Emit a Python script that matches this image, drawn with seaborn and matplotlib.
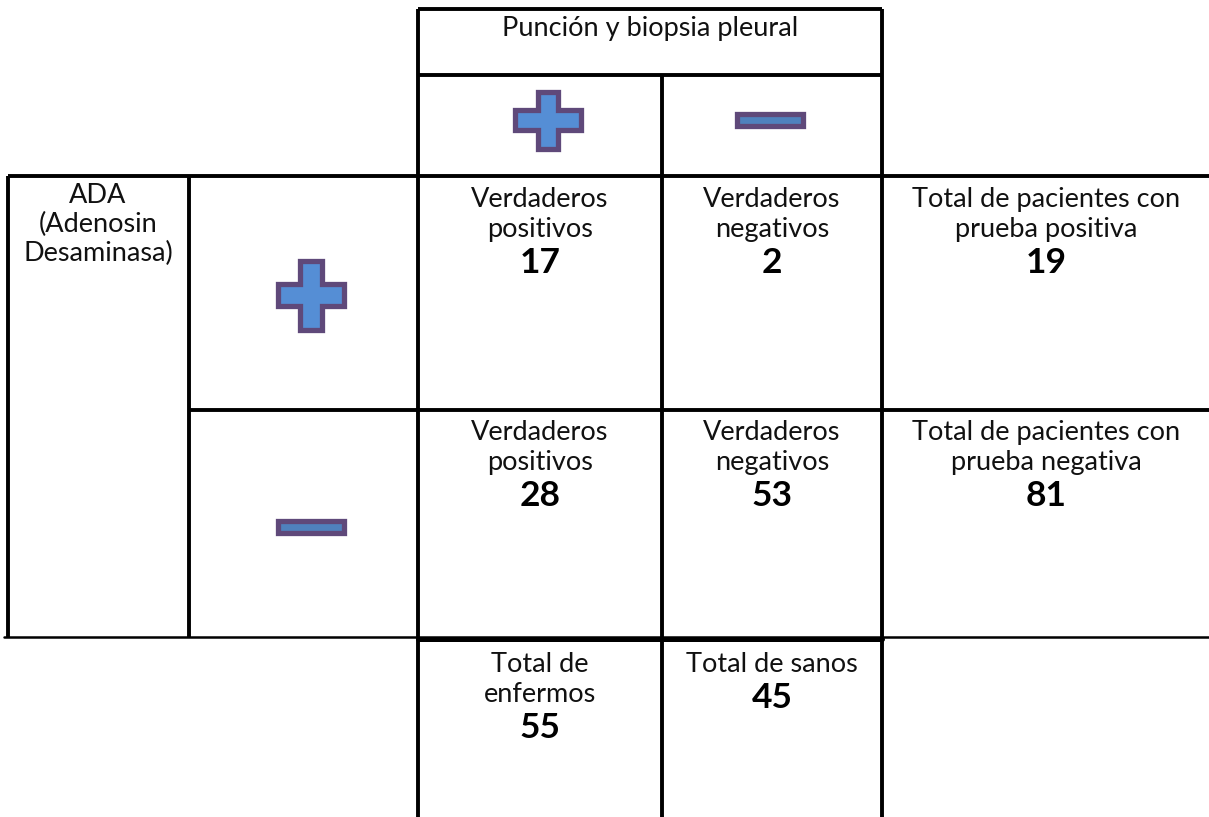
import matplotlib
matplotlib.use("Agg")
import matplotlib.pyplot as plt
from matplotlib.patches import Polygon
import seaborn as sns

# ---- data ----
col_header = "Punción y biopsia pleural"
row_header = ["ADA", "(Adenosin", "Desaminasa)"]
cell_labels = [["Verdaderos\npositivos", "Verdaderos\nnegativos"],
               ["Verdaderos\npositivos", "Verdaderos\nnegativos"]]
counts = [[17, 2], [28, 53]]
row_total_labels = ["Total de pacientes con\nprueba positiva",
                    "Total de pacientes con\nprueba negativa"]
row_totals = [19, 81]
col_total_labels = ["Total de\nenfermos", "Total de sanos"]
col_totals = [55, 45]

sns.set_style("white")
plt.rcParams['font.family'] = ['Lato', 'DejaVu Sans']

W, H = 1209, 817
fig = plt.figure(figsize=(W / 100, H / 100), dpi=100)
ax = fig.add_axes([0, 0, 1, 1])
ax.set_xlim(0, W)
ax.set_ylim(H, 0)
ax.axis("off")

lw = 2.8
line_kw = dict(color="black", lw=lw, solid_capstyle="butt")

# grid lines
ax.plot([418, 882], [9, 9], **line_kw)
ax.plot([418, 882], [75, 75], **line_kw)
ax.plot([418, 418], [9, 817], **line_kw)
ax.plot([882, 882], [9, 817], **line_kw)
ax.plot([662, 662], [75, 817], **line_kw)
ax.plot([8, W], [176, 176], **line_kw)
ax.plot([189, W], [410, 410], **line_kw)
ax.plot([4, W], [637, 637], color="black", lw=1.8)
ax.plot([418, 882], [639, 639], color="black", lw=3.6)
ax.plot([8, 8], [176, 637], **line_kw)
ax.plot([189, 189], [176, 637], **line_kw)

# plus / minus signs
fill_c = "#558ed5"
edge_c = "#5f497a"


def plus(cx, cy, w, h, t):
    pts = [(cx - t / 2, cy - h / 2), (cx + t / 2, cy - h / 2), (cx + t / 2, cy - t / 2),
           (cx + w / 2, cy - t / 2), (cx + w / 2, cy + t / 2), (cx + t / 2, cy + t / 2),
           (cx + t / 2, cy + h / 2), (cx - t / 2, cy + h / 2), (cx - t / 2, cy + t / 2),
           (cx - w / 2, cy + t / 2), (cx - w / 2, cy - t / 2), (cx - t / 2, cy - t / 2)]
    ax.add_patch(Polygon(pts, closed=True, facecolor=fill_c, edgecolor=edge_c, lw=3.8))


def minus(cx, cy, w, t):
    pts = [(cx - w / 2, cy - t / 2), (cx + w / 2, cy - t / 2),
           (cx + w / 2, cy + t / 2), (cx - w / 2, cy + t / 2)]
    ax.add_patch(Polygon(pts, closed=True, facecolor="#4f81bd", edgecolor=edge_c, lw=3.8))


plus(548, 120, 66, 57, 20)
minus(770, 120, 66, 12)
plus(311, 295, 66, 69, 22)
minus(311, 527, 66, 12)

# text
fs = 19.5
fs_num = 25.5
txt_kw = dict(ha="center", va="center", fontsize=fs, color="#111111")
num_kw = dict(ha="center", va="center", fontsize=fs_num, fontweight="bold", color="black")
step = 30

ax.text(650, 28, col_header, **txt_kw)
for i, s in enumerate(row_header):
    ax.text(98, 195 + i * 29, s, **txt_kw)

col_x = [540, 772]
row_y = [199, 432]
for r in range(2):
    for c in range(2):
        for k, s in enumerate(cell_labels[r][c].split("\n")):
            ax.text(col_x[c], row_y[r] + k * step, s, **txt_kw)
        ax.text(col_x[c], row_y[r] + 64, str(counts[r][c]), **num_kw)
    for k, s in enumerate(row_total_labels[r].split("\n")):
        ax.text(1046, row_y[r] + k * step, s, **txt_kw)
    ax.text(1046, row_y[r] + 64, str(row_totals[r]), **num_kw)

for c in range(2):
    parts = col_total_labels[c].split("\n")
    for k, s in enumerate(parts):
        ax.text(col_x[c], 664 + k * step, s, **txt_kw)
    ax.text(col_x[c], 664 + len(parts) * step + 4, str(col_totals[c]), **num_kw)

fig.savefig("out.png", dpi=100)
